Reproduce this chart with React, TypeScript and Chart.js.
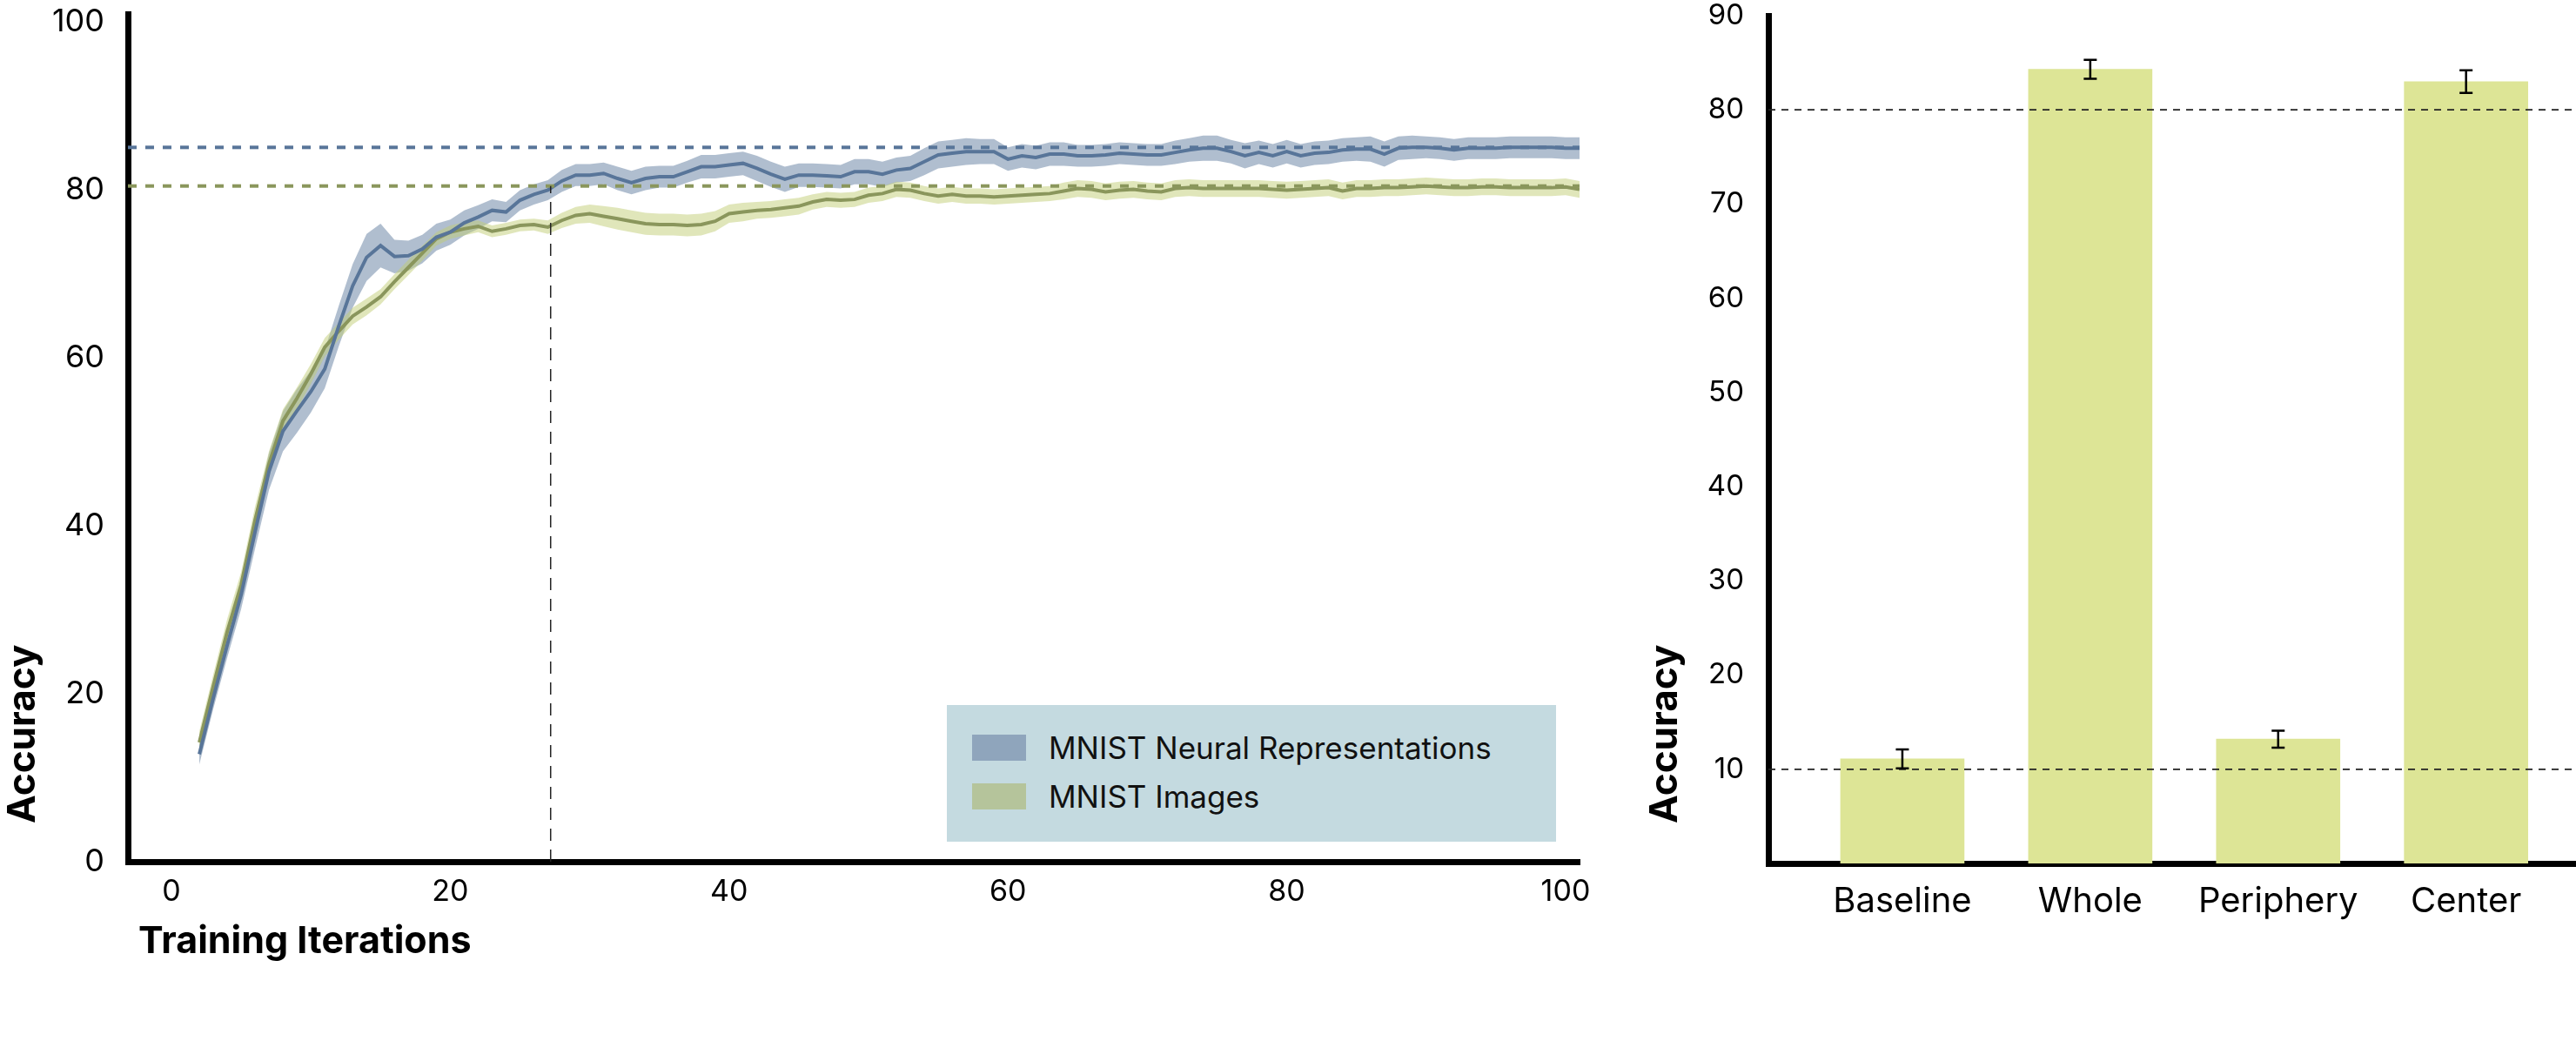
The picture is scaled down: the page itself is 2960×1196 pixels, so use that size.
import { useEffect, useRef } from "react";
import { Chart, registerables } from "chart.js";

Chart.register(...registerables);

// ---- left panel: accuracy over training iterations (mean, band = spread) ----
const seriesNames = ["MNIST Neural Representations", "MNIST Images"];

const neuralAcc = [
  12.8, 19.5, 25.8, 31.8, 39.3, 46.5, 51.3, 53.7, 56.0, 58.7,
  63.8, 68.6, 72.0, 73.4, 72.1, 72.2, 73.0, 74.4, 75.0, 76.1,
  76.8, 77.6, 77.4, 78.8, 79.5, 80.0, 81.1, 81.8, 81.8, 82.0,
  81.4, 80.9, 81.4, 81.6, 81.6, 82.2, 82.8, 82.8, 83.0, 83.2,
  82.6, 81.9, 81.3, 81.8, 81.8, 81.7, 81.6, 82.2, 82.2, 81.9,
  82.4, 82.6, 83.4, 84.2, 84.4, 84.6, 84.6, 84.6, 83.7, 84.1,
  83.9, 84.3, 84.3, 84.1, 84.1, 84.2, 84.4, 84.3, 84.2, 84.2,
  84.5, 84.8, 85.0, 85.0, 84.6, 84.1, 84.5, 84.1, 84.6, 84.1,
  84.4, 84.5, 84.8, 84.9, 84.9, 84.3, 85.0, 85.1, 85.1, 85.0,
  84.8, 85.0, 85.0, 85.0, 85.1, 85.1, 85.1, 85.1, 85.0, 85.0,
];

const imageAcc = [
  14.2, 20.9, 27.4, 33.0, 40.7, 47.4, 52.5, 55.2, 58.1, 61.3,
  63.2, 65.0, 66.1, 67.3, 69.1, 70.8, 72.5, 74.2, 75.0, 75.4,
  75.7, 75.1, 75.4, 75.8, 75.9, 75.6, 76.4, 77.0, 77.2, 76.9,
  76.6, 76.3, 76.0, 75.9, 75.9, 75.8, 75.9, 76.3, 77.2, 77.4,
  77.6, 77.7, 77.9, 78.1, 78.6, 78.9, 78.8, 78.9, 79.4, 79.6,
  80.1, 80.0, 79.6, 79.3, 79.5, 79.3, 79.3, 79.2, 79.3, 79.4,
  79.5, 79.6, 79.9, 80.2, 80.1, 79.8, 80.0, 80.1, 79.9, 79.8,
  80.2, 80.3, 80.2, 80.2, 80.2, 80.2, 80.2, 80.1, 80.0, 80.1,
  80.2, 80.3, 79.9, 80.2, 80.2, 80.3, 80.3, 80.4, 80.5, 80.4,
  80.3, 80.3, 80.4, 80.4, 80.3, 80.3, 80.3, 80.3, 80.4, 80.1,
];

const neuralErr = [
  1.2, 1.3, 1.5, 1.7, 2.0, 2.2, 2.4, 2.6, 2.5, 2.3,
  2.4, 2.6, 2.8, 2.6, 2.0, 1.8, 1.7, 1.6, 1.5, 1.5,
  1.4, 1.3, 1.2, 1.2, 1.2, 1.2, 1.3, 1.3, 1.3, 1.3,
  1.4, 1.4, 1.4, 1.3, 1.3, 1.3, 1.4, 1.4, 1.4, 1.4,
  1.5, 1.5, 1.5, 1.4, 1.4, 1.4, 1.4, 1.5, 1.5, 1.5,
  1.5, 1.5, 1.6, 1.6, 1.6, 1.6, 1.5, 1.5, 1.4, 1.4,
  1.4, 1.4, 1.4, 1.3, 1.3, 1.3, 1.3, 1.3, 1.3, 1.3,
  1.4, 1.4, 1.5, 1.5, 1.4, 1.5, 1.4, 1.4, 1.4, 1.4,
  1.4, 1.4, 1.4, 1.4, 1.5, 1.5, 1.4, 1.4, 1.3, 1.3,
  1.3, 1.3, 1.3, 1.3, 1.3, 1.3, 1.3, 1.3, 1.3, 1.3,
];

const imageErr = [
  1.3, 1.4, 1.5, 1.5, 1.6, 1.5, 1.4, 1.3, 1.2, 1.1,
  1.0, 1.0, 1.0, 0.9, 0.9, 0.9, 0.9, 0.8, 0.8, 0.8,
  0.7, 0.7, 0.7, 0.7, 0.7, 0.8, 0.9, 1.0, 1.1, 1.2,
  1.3, 1.3, 1.3, 1.3, 1.3, 1.3, 1.3, 1.2, 1.1, 1.1,
  1.0, 1.0, 1.0, 1.0, 0.9, 0.9, 0.9, 0.9, 0.9, 0.9,
  0.9, 0.9, 0.9, 0.9, 0.9, 0.9, 0.9, 0.9, 0.9, 0.9,
  0.9, 0.9, 1.0, 1.0, 1.0, 1.0, 1.0, 1.0, 1.0, 1.0,
  1.0, 1.0, 1.0, 1.0, 1.0, 1.0, 1.0, 1.0, 1.0, 1.0,
  1.0, 1.0, 1.0, 1.0, 1.0, 1.0, 1.0, 1.0, 1.0, 1.0,
  1.0, 1.0, 1.0, 1.0, 1.0, 1.0, 1.0, 1.0, 1.0, 1.0,
];

const firstIteration = 2;
const iterations = neuralAcc.map((_, i) => firstIteration + i);
const iterTicks = [0, 20, 40, 60, 80, 100];
const accTicksLeft = [0, 20, 40, 60, 80, 100];

const neuralCeiling = 85.1;
const imageCeiling = 80.5;
const crossoverIter = 27.2;

// ---- right panel: accuracy by region ----
const regions = ["Baseline", "Whole", "Periphery", "Center"];
const regionAcc = [11.1, 84.3, 13.2, 83.0];
const regionErr = [1.0, 1.0, 0.9, 1.2];
const accTicksRight = [10, 20, 30, 40, 50, 60, 70, 80, 90];
const regionRefLines = [10, 80];

const BLUE = "#587599";
const BLUE_BAND = "rgba(88,117,153,0.47)";
const GREEN = "#8a965c";
const GREEN_BAND = "rgba(194,206,118,0.5)";
const LEGEND_SWATCH = ["#8fa5bc", "#b5c49b"];
const BAR = "#dde596";
const FONT = "Inter";

// axis titles drawn by hand so they can sit where the original put them
function axisTitles(yTitle: string, yX: number, yLift: number, xTitle?: string) {
  return {
    id: "axisTitles",
    afterDraw(chart: any) {
      const { ctx, chartArea } = chart;
      ctx.save();
      ctx.fillStyle = "#000";
      ctx.textBaseline = "middle";
      ctx.textAlign = "left";
      ctx.font = `bold 44px ${FONT}`;
      ctx.translate(yX, chartArea.bottom - yLift);
      ctx.rotate(-Math.PI / 2);
      ctx.fillText(yTitle, 0, 0);
      ctx.restore();
      if (xTitle) {
        ctx.save();
        ctx.fillStyle = "#000";
        ctx.textBaseline = "middle";
        ctx.textAlign = "left";
        ctx.font = `bold 43px ${FONT}`;
        ctx.fillText(xTitle, chartArea.left + 12, chartArea.bottom + 92);
        ctx.restore();
      }
    },
  };
}

// keep tick labels from pushing the plot area around
const fixWidth = (w: number) => (s: any) => {
  s.width = w;
  s.paddingTop = 0;
  s.paddingBottom = 0;
};
const fixHeight = (h: number) => (s: any) => {
  s.height = h;
  s.paddingLeft = 0;
  s.paddingRight = 0;
};

function AccuracyCurves() {
  const canvasRef = useRef<HTMLCanvasElement>(null);
  const chartRef = useRef<Chart | null>(null);

  useEffect(() => {
    if (!canvasRef.current) return;

    const pts = (vals: number[], err?: number[], sign = 0) =>
      vals.map((v, i) => ({ x: iterations[i], y: v + (err ? sign * err[i] : 0) }));

    const refLines = {
      id: "refLines",
      afterDatasetsDraw(chart: any) {
        const { ctx, chartArea, scales } = chart;
        const { x, y } = scales;
        ctx.save();
        ctx.lineWidth = 4;
        ctx.setLineDash([10, 10]);
        [[neuralCeiling, BLUE], [imageCeiling, GREEN]].forEach(([v, c]) => {
          const py = y.getPixelForValue(v as number);
          ctx.strokeStyle = c as string;
          ctx.beginPath();
          ctx.moveTo(chartArea.left, py);
          ctx.lineTo(chartArea.right, py);
          ctx.stroke();
        });
        const px = x.getPixelForValue(crossoverIter);
        ctx.lineWidth = 1.5;
        ctx.strokeStyle = "#222";
        ctx.setLineDash([14, 10]);
        ctx.beginPath();
        ctx.moveTo(px, y.getPixelForValue(0));
        ctx.lineTo(px, y.getPixelForValue(imageCeiling));
        ctx.stroke();
        ctx.restore();
      },
    };

    const band = { borderColor: "transparent", borderWidth: 0, pointRadius: 0 };

    chartRef.current = new Chart(canvasRef.current, {
      type: "line",
      data: {
        datasets: [
          { label: seriesNames[0], data: pts(neuralAcc), borderColor: BLUE, borderWidth: 4, pointRadius: 0, fill: false, order: 0 },
          { label: seriesNames[1], data: pts(imageAcc), borderColor: GREEN, borderWidth: 4, pointRadius: 0, fill: false, order: 1 },
          { ...band, data: pts(neuralAcc, neuralErr, 1), fill: "+1", backgroundColor: BLUE_BAND, order: 3 },
          { ...band, data: pts(neuralAcc, neuralErr, -1), fill: false, order: 3 },
          { ...band, data: pts(imageAcc, imageErr, 1), fill: "+1", backgroundColor: GREEN_BAND, order: 2 },
          { ...band, data: pts(imageAcc, imageErr, -1), fill: false, order: 2 },
        ],
      },
      options: {
        animation: false,
        responsive: true,
        maintainAspectRatio: false,
        layout: { padding: { top: 16, right: 35, left: 0, bottom: 0 } },
        plugins: { legend: { display: false }, tooltip: { enabled: false } },
        scales: {
          x: {
            type: "linear",
            min: -3.12,
            max: 101,
            afterBuildTicks: (s: any) => { s.ticks = iterTicks.map((value) => ({ value })); },
            afterFit: fixHeight(206),
            grid: { display: false, drawTicks: false },
            border: { display: true, color: "#000", width: 7 },
            ticks: { font: { family: FONT, size: 34 }, color: "#000", padding: 14, maxRotation: 0 },
          },
          y: {
            min: 0,
            max: 101,
            afterBuildTicks: (s: any) => { s.ticks = accTicksLeft.map((value) => ({ value })); },
            afterFit: fixWidth(147),
            grid: { display: false, drawTicks: false },
            border: { display: true, color: "#000", width: 7 },
            ticks: { font: { family: FONT, size: 36 }, color: "#000", padding: 27 },
          },
        },
      },
      plugins: [refLines, axisTitles("Accuracy", 27, 44, "Training Iterations")],
    } as any);

    return () => {
      if (chartRef.current) {
        chartRef.current.destroy();
        chartRef.current = null;
      }
    };
  }, []);

  return (
    <div style={{ position: "absolute", left: 0, top: 0, width: 1850, height: 1196 }}>
      <canvas ref={canvasRef} />
      <div
        style={{
          position: "absolute", left: 1088, top: 810, width: 700, height: 157,
          background: "#c4dae0", fontFamily: FONT, fontSize: 35, color: "#111",
        }}
      >
        {seriesNames.map((name, i) => (
          <div key={name} style={{ position: "absolute", left: 29, top: 34 + i * 56, display: "flex", alignItems: "center", height: 30 }}>
            <span style={{ display: "inline-block", width: 62, height: 30, background: LEGEND_SWATCH[i] }} />
            <span style={{ marginLeft: 26, lineHeight: "30px", whiteSpace: "nowrap" }}>{name}</span>
          </div>
        ))}
      </div>
    </div>
  );
}

function RegionBars() {
  const canvasRef = useRef<HTMLCanvasElement>(null);
  const chartRef = useRef<Chart | null>(null);

  useEffect(() => {
    if (!canvasRef.current) return;

    const extras = {
      id: "barExtras",
      afterDatasetsDraw(chart: any) {
        const { ctx, chartArea, scales } = chart;
        const { x, y } = scales;
        ctx.save();
        ctx.strokeStyle = "#222";
        ctx.lineWidth = 1.8;
        ctx.setLineDash([8, 7]);
        regionRefLines.forEach((v) => {
          const py = y.getPixelForValue(v);
          ctx.beginPath();
          ctx.moveTo(chartArea.left, py);
          ctx.lineTo(chartArea.right, py);
          ctx.stroke();
        });
        ctx.setLineDash([]);
        ctx.strokeStyle = "#000";
        ctx.lineWidth = 2.5;
        regionAcc.forEach((v, i) => {
          const px = x.getPixelForValue(i);
          const top = y.getPixelForValue(v + regionErr[i]);
          const bot = y.getPixelForValue(v - regionErr[i]);
          ctx.beginPath();
          ctx.moveTo(px, top);
          ctx.lineTo(px, bot);
          ctx.moveTo(px - 7.5, top);
          ctx.lineTo(px + 7.5, top);
          ctx.moveTo(px - 7.5, bot);
          ctx.lineTo(px + 7.5, bot);
          ctx.stroke();
        });
        ctx.restore();
      },
    };

    chartRef.current = new Chart(canvasRef.current, {
      type: "bar",
      data: {
        datasets: [
          {
            label: "Accuracy",
            data: regionAcc.map((v, i) => ({ x: i, y: v })),
            backgroundColor: BAR,
            barThickness: 142,
          },
        ],
      },
      options: {
        animation: false,
        responsive: true,
        maintainAspectRatio: false,
        layout: { padding: { top: 18, right: 0, left: 0, bottom: 0 } },
        plugins: { legend: { display: false }, tooltip: { enabled: false } },
        scales: {
          x: {
            type: "linear",
            offset: false,
            min: -0.713,
            max: 3.585,
            afterBuildTicks: (s: any) => { s.ticks = regions.map((_, i) => ({ value: i })); },
            afterFit: fixHeight(204),
            grid: { display: false, drawTicks: false, offset: false },
            border: { display: true, color: "#000", width: 7 },
            ticks: {
              callback: (v: any) => regions[v] ?? "",
              autoSkip: false,
              maxRotation: 0,
              font: { family: FONT, size: 40 },
              color: "#000",
              padding: 20,
            },
          },
          y: {
            min: 0,
            max: 90,
            afterBuildTicks: (s: any) => { s.ticks = accTicksRight.map((value) => ({ value })); },
            afterFit: fixWidth(182),
            grid: { display: false, drawTicks: false },
            border: { display: true, color: "#000", width: 7 },
            ticks: { font: { family: FONT, size: 33 }, color: "#000", padding: 28 },
          },
        },
      },
      plugins: [extras, axisTitles("Accuracy", 64, 46)],
    } as any);

    return () => {
      if (chartRef.current) {
        chartRef.current.destroy();
        chartRef.current = null;
      }
    };
  }, []);

  return (
    <div style={{ position: "absolute", left: 1850, top: 0, width: 1110, height: 1196 }}>
      <canvas ref={canvasRef} />
    </div>
  );
}

export default function App() {
  return (
    <div style={{ position: "absolute", left: 0, top: 0, width: 2960, height: 1196, background: "#fff", overflow: "hidden" }}>
      <AccuracyCurves />
      <RegionBars />
    </div>
  );
}
